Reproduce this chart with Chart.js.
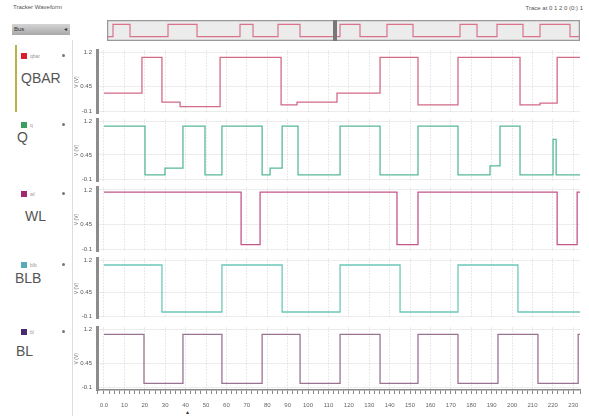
<!DOCTYPE html>
<html>
<head>
<meta charset="utf-8">
<script src="https://cdn.jsdelivr.net/npm/chart.js@4.4.1/dist/chart.umd.min.js"></script>
<style>
body{margin:0;width:589px;height:416px;background:#fff;position:relative;overflow:hidden;font-family:"Liberation Sans",Arial,sans-serif;}
canvas{position:absolute;}
.t{position:absolute;white-space:nowrap;}
.name{position:absolute;font-size:14px;color:#555;}
.sq{position:absolute;width:6px;height:6px;}
.tag{position:absolute;font-size:5px;color:#999;}
.dot{position:absolute;width:3px;height:3px;border-radius:50%;background:#777;}
</style>
</head>
<body>
<div class="t" style="left:13px;top:4px;font-size:6px;color:#555;">Tracker Waveform</div>
<div class="t" style="right:6px;top:5px;font-size:6px;color:#555;">Trace at 0 1 2 0 (0:) 1</div>
<div class="t" style="left:12px;top:24px;width:58px;height:11px;background:linear-gradient(#d4d4d4,#a8a8a8);font-size:6px;color:#333;line-height:11px;padding-left:2px;box-sizing:border-box;">Bus<span style="position:absolute;right:3px;">&#9666;</span></div>
<div class="t" style="left:72px;top:40px;width:1px;height:376px;background:#ddd;"></div>
<div class="t" style="left:15px;top:45px;width:2px;height:67px;background:#b9b24a;"></div>

<div class="sq" style="left:21px;top:53px;background:#d8202a;"></div><div class="tag" style="left:30px;top:53px;">qbar</div><div class="dot" style="left:62px;top:54px;"></div>
<div class="name" style="left:21px;top:70px;">QBAR</div>
<div class="sq" style="left:21px;top:122px;background:#3aa060;"></div><div class="tag" style="left:30px;top:122px;">q</div><div class="dot" style="left:62px;top:123px;"></div>
<div class="name" style="left:17px;top:129px;">Q</div>
<div class="sq" style="left:21px;top:191px;background:#a02a6a;"></div><div class="tag" style="left:30px;top:191px;">wl</div><div class="dot" style="left:62px;top:192px;"></div>
<div class="name" style="left:25px;top:208px;">WL</div>
<div class="sq" style="left:21px;top:262px;background:#58aab8;"></div><div class="tag" style="left:30px;top:262px;">blb</div><div class="dot" style="left:62px;top:263px;"></div>
<div class="name" style="left:15px;top:270px;">BLB</div>
<div class="sq" style="left:21px;top:329px;background:#4a2a70;"></div><div class="tag" style="left:30px;top:329px;">bl</div><div class="dot" style="left:62px;top:330px;"></div>
<div class="name" style="left:16px;top:343px;">BL</div>
<div class="t" style="left:186px;top:408px;font-size:6px;color:#333;">&#9652;</div>

<canvas id="ov" width="473" height="21" style="left:107px;top:20px;"></canvas>
<canvas id="c1" width="515" height="80" style="left:74px;top:42px;"></canvas>
<canvas id="c2" width="515" height="79" style="left:74px;top:111px;"></canvas>
<canvas id="c3" width="515" height="81" style="left:74px;top:179px;"></canvas>
<canvas id="c4" width="515" height="77" style="left:74px;top:250px;"></canvas>
<canvas id="c5" width="515" height="97" style="left:74px;top:319px;"></canvas>

<script>
const xLabels = ['0.0', '10', '20', '30', '40', '50', '60', '70', '80', '90', '100', '110',
    '120', '130', '140', '150', '160', '170', '180', '190', '200', '210', '220', '230'];
const yTicks = [-0.1, 0.45, 1.2];
const yLabels = ['-0.1', '0.45', '1.2'];
const tEnd = 233.3;

// edge times (ns) and the level that starts at each edge
const qbarEdges = [0, 18.6, 28.4, 37.3, 56.9, 86.8, 94.6, 114.2, 135.3, 153.9, 173.5, 203.9, 213.7, 222.1];
const qbarLevels = [0.3, 1.1, 0.1, 0.0, 1.1, 0.04, 0.1, 0.3, 1.1, 0.04, 1.1, 0.04, 0.08, 1.1];
const qEdges = [0, 20.1, 29.9, 38.7, 49.5, 57.8, 77.5, 81.4, 87.3, 95.1, 115.7, 135.3, 153.9, 173.5, 189.2, 194.1, 203.9, 220.1, 221.6];
const qLevels = [1.1, 0.0, 0.15, 1.1, 0.0, 1.1, 0.0, 0.15, 1.1, 0.0, 1.1, 0.0, 1.1, 0.0, 0.2, 1.1, 0.0, 0.8, 0.0];
const wlEdges = [0, 67.2, 76.5, 143.6, 153.9, 222.1, 231.9];
const wlLevels = [1.15, 0.0, 1.15, 0.0, 1.15, 0.0, 1.15];
const blbEdges = [0, 28.4, 57.8, 87.3, 115.7, 145.1, 173.5, 202.9];
const blbLevels = [1.1, 0.0, 1.1, 0.0, 1.1, 0.0, 1.1, 0.0];
const blEdges = [0, 19.6, 38.7, 57.8, 77.5, 96.1, 115.7, 135.3, 153.9, 173.5, 193.1, 212.7, 232.4];
const blLevels = [1.1, 0.0, 1.1, 0.0, 1.1, 0.0, 1.1, 0.0, 1.1, 0.0, 1.1, 0.0, 1.1];

// overview strip (whole run)
const ovEnd = 473;
const ovEdges = [0, 6, 23, 61, 90, 133, 146, 171, 193, 233, 253, 280, 306, 353, 370, 390, 416, 433, 463];
const ovLevels = [0, 1, 0, 1, 0, 1, 0, 1, 0, 1, 0, 1, 0, 1, 0, 1, 0, 1, 0];

function steps(edges, levels, end) {
    const pts = edges.map((t, i) => ({ x: t, y: levels[i] }));
    pts.push({ x: end, y: levels[levels.length - 1] });
    return pts;
}

function isMajor(v) {
    return Math.abs(v / 10 - Math.round(v / 10)) < 1e-6 && v >= 0;
}

function panel(id, edges, levels, color, showX) {
    new Chart(document.getElementById(id), {
        type: 'line',
        data: {
            datasets: [{
                data: steps(edges, levels, tEnd),
                stepped: true,
                borderColor: color,
                borderWidth: 1.3,
                pointRadius: 0,
                fill: false
            }]
        },
        options: {
            responsive: false,
            animation: false,
            layout: { padding: { right: 9 } },
            plugins: { legend: { display: false }, tooltip: { enabled: false } },
            scales: {
                x: {
                    type: 'linear',
                    min: -3.43,
                    max: tEnd,
                    afterFit: s => { s.height = showX ? 26 : 0; },
                    ticks: {
                        display: showX,
                        stepSize: 2.5,
                        autoSkip: false,
                        maxRotation: 0,
                        padding: 8,
                        font: { size: 6 },
                        color: '#666',
                        callback: v => isMajor(v) ? xLabels[Math.round(v / 10)] : ''
                    },
                    grid: {
                        color: c => (c.tick && isMajor(c.tick.value)) ? 'rgba(170,170,170,0.5)' : 'rgba(0,0,0,0)',
                        drawTicks: showX,
                        tickLength: 4,
                        tickColor: '#888'
                    },
                    border: { display: showX, color: '#888', width: 1.5, dash: [1, 2] }
                },
                y: {
                    min: -0.15,
                    max: 1.25,
                    afterBuildTicks: s => { s.ticks = yTicks.map(v => ({ value: v })); },
                    afterFit: s => { s.width = 23; },
                    ticks: {
                        font: { size: 6 },
                        color: '#555',
                        padding: 5,
                        callback: v => yLabels[yTicks.indexOf(v)]
                    },
                    grid: { color: 'rgba(200,200,200,0.35)', drawTicks: false },
                    border: { color: '#8c8c8c', width: 3 },
                    title: { display: true, text: 'V (V)', font: { size: 5 }, color: '#777', padding: 0 }
                }
            }
        }
    });
}

panel('c1', qbarEdges, qbarLevels, '#d46a86', false);
panel('c2', qEdges, qLevels, '#58b89a', false);
panel('c3', wlEdges, wlLevels, '#c4568a', false);
panel('c4', blbEdges, blbLevels, '#6cc8b8', false);
panel('c5', blEdges, blLevels, '#9a7392', true);

const stripFrame = {
    id: 'stripFrame',
    beforeDraw(chart) {
        const { ctx, chartArea: a } = chart;
        ctx.save();
        ctx.fillStyle = '#ececec';
        ctx.fillRect(a.left, a.top, a.width, a.height);
        ctx.restore();
    },
    afterDraw(chart) {
        const { ctx, chartArea: a, scales } = chart;
        ctx.save();
        ctx.strokeStyle = '#999';
        ctx.lineWidth = 1.5;
        ctx.strokeRect(a.left + 0.5, a.top + 0.5, a.width - 1, a.height - 1);
        ctx.fillStyle = '#777';
        const xb = scales.x.getPixelForValue(226);
        ctx.fillRect(xb, a.top, 4, a.height);
        ctx.restore();
    }
};

new Chart(document.getElementById('ov'), {
    type: 'line',
    data: {
        datasets: [{
            data: steps(ovEdges, ovLevels, ovEnd),
            stepped: true,
            borderColor: '#d9738c',
            borderWidth: 1.2,
            pointRadius: 0
        }]
    },
    options: {
        responsive: false,
        animation: false,
        plugins: { legend: { display: false }, tooltip: { enabled: false } },
        scales: {
            x: { type: 'linear', min: 0, max: ovEnd, display: false },
            y: { min: -0.35, max: 1.35, display: false }
        }
    },
    plugins: [stripFrame]
});
</script>
</body>
</html>
